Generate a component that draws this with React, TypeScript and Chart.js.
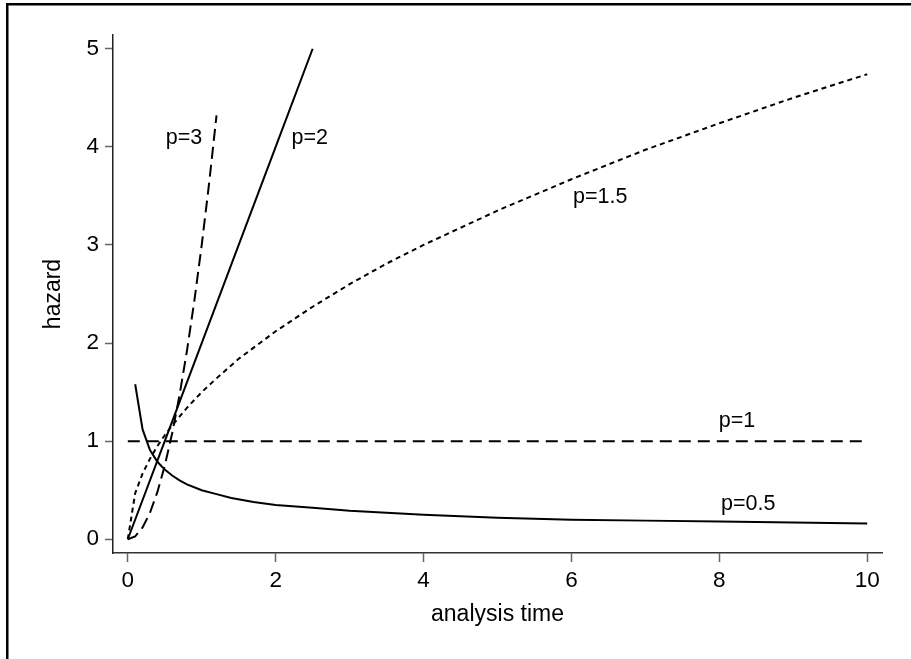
import React, { useEffect, useRef } from "react";
import { Chart, registerables } from "chart.js";

Chart.register(...registerables);

// ---- data ----
const tHalf = [0.1, 0.2, 0.3, 0.4, 0.5, 0.6, 0.7, 0.8, 1.0, 1.2, 1.4, 1.7, 2.0, 2.5, 3, 3.5, 4, 5, 6, 7, 8, 9, 10];
const hHalf = [1.58, 1.12, 0.91, 0.79, 0.71, 0.65, 0.6, 0.56, 0.5, 0.46, 0.42, 0.38, 0.35, 0.32, 0.29, 0.27, 0.25, 0.22, 0.2, 0.19, 0.18, 0.17, 0.16];

const tOne = [0, 10];
const hOne = [1, 1];

const tOneHalf = [0, 0.1, 0.2, 0.3, 0.4, 0.5, 0.6, 0.8, 1.0, 1.2, 1.5, 2, 2.5, 3, 3.5, 4, 5, 6, 7, 8, 9, 10];
const hOneHalf = [0, 0.47, 0.67, 0.82, 0.95, 1.06, 1.16, 1.34, 1.5, 1.64, 1.84, 2.12, 2.37, 2.6, 2.81, 3.0, 3.35, 3.67, 3.97, 4.24, 4.5, 4.74];

const tTwo = [0, 0.5, 1, 1.5, 2, 2.5];
const hTwo = [0, 1, 2, 3, 4, 5];

const tThree = [0, 0.1, 0.2, 0.3, 0.4, 0.5, 0.6, 0.7, 0.8, 0.9, 1.0, 1.1, 1.2];
const hThree = [0, 0.03, 0.12, 0.27, 0.48, 0.75, 1.08, 1.47, 1.92, 2.43, 3.0, 3.63, 4.32];

const xTicks = [0, 2, 4, 6, 8, 10];
const yTicks = [0, 1, 2, 3, 4, 5];

const labelTexts = ["p=3", "p=2", "p=1.5", "p=1", "p=0.5"];
const labelX = [0.76, 2.46, 6.39, 8.24, 8.39];
const labelY = [4.09, 4.09, 3.49, 1.2, 0.36];

const xTitle = "analysis time";
const yTitle = "hazard";

const FONT = "'Liberation Sans', Arial, Helvetica, sans-serif";

function pts(t: number[], h: number[]) {
  return t.map((x, i) => ({ x, y: h[i] }));
}

const framePlugin = {
  id: "frame",
  afterDraw(chart: any) {
    const ctx = chart.ctx;
    ctx.save();
    ctx.fillStyle = "#000";
    ctx.fillRect(6, 3, 2.5, chart.height);
    ctx.fillRect(6, 3, chart.width, 2.5);
    ctx.restore();
  },
};

const labelPlugin = {
  id: "curveLabels",
  afterDatasetsDraw(chart: any) {
    const ctx = chart.ctx;
    const xs = chart.scales.x;
    const ys = chart.scales.y;
    ctx.save();
    ctx.fillStyle = "#000";
    ctx.font = `21.5px ${FONT}`;
    ctx.textAlign = "center";
    ctx.textBaseline = "middle";
    labelTexts.forEach((txt, i) => {
      ctx.fillText(txt, xs.getPixelForValue(labelX[i]), ys.getPixelForValue(labelY[i]));
    });
    ctx.restore();
  },
};

export default function App() {
  const ref = useRef<HTMLCanvasElement | null>(null);

  useEffect(() => {
    if (!ref.current) return;
    const line = (data: any, dash: number[]) => ({
      data,
      borderColor: "#000",
      borderWidth: 2,
      borderDash: dash,
      pointRadius: 0,
      tension: 0,
      fill: false,
      showLine: true,
    });
    const chart = new Chart(ref.current, {
      type: "scatter",
      data: {
        datasets: [
          line(pts(tHalf, hHalf), []),
          line(pts(tOne, hOne), [12, 7]),
          line(pts(tOneHalf, hOneHalf), [5, 4]),
          line(pts(tTwo, hTwo), []),
          line(pts(tThree, hThree), [12, 6]),
        ],
      },
      options: {
        animation: false,
        responsive: false,
        events: [],
        layout: { padding: { top: 35, right: 29, left: 0, bottom: 0 } },
        plugins: { legend: { display: false }, tooltip: { enabled: false } },
        scales: {
          x: {
            type: "linear",
            min: -0.2,
            max: 10.2,
            afterFit: (s: any) => {
              s.height = 106;
            },
            afterBuildTicks: (s: any) => {
              s.ticks = xTicks.map((v) => ({ value: v }));
            },
            border: { display: true, color: "#333", width: 1.5 },
            grid: { display: true, drawOnChartArea: false, drawTicks: true, tickLength: 9, tickColor: "#666", tickWidth: 1.5 },
            ticks: { color: "#000", font: { family: FONT, size: 22.5 }, padding: 5, maxRotation: 0 },
            title: { display: true, text: xTitle, color: "#000", font: { family: FONT, size: 23 }, padding: { top: 31, bottom: 31 } },
          },
          y: {
            type: "linear",
            min: -0.14,
            max: 5.14,
            afterFit: (s: any) => {
              s.width = 113;
            },
            afterBuildTicks: (s: any) => {
              s.ticks = yTicks.map((v) => ({ value: v }));
            },
            border: { display: true, color: "#222", width: 1.5 },
            grid: { display: true, drawOnChartArea: false, drawTicks: true, tickLength: 8, tickColor: "#666", tickWidth: 1.5 },
            ticks: { color: "#000", font: { family: FONT, size: 22.5 }, padding: 6 },
            title: { display: true, text: yTitle, color: "#000", font: { family: FONT, size: 23 }, padding: { top: 40, bottom: 40 } },
          },
        },
      },
      plugins: [framePlugin, labelPlugin],
    });
    return () => chart.destroy();
  }, []);

  return (
    <div style={{ position: "fixed", left: 0, top: 0, width: 911, height: 659, background: "#fff" }}>
      <canvas ref={ref} width={911} height={659} style={{ display: "block" }} />
    </div>
  );
}
